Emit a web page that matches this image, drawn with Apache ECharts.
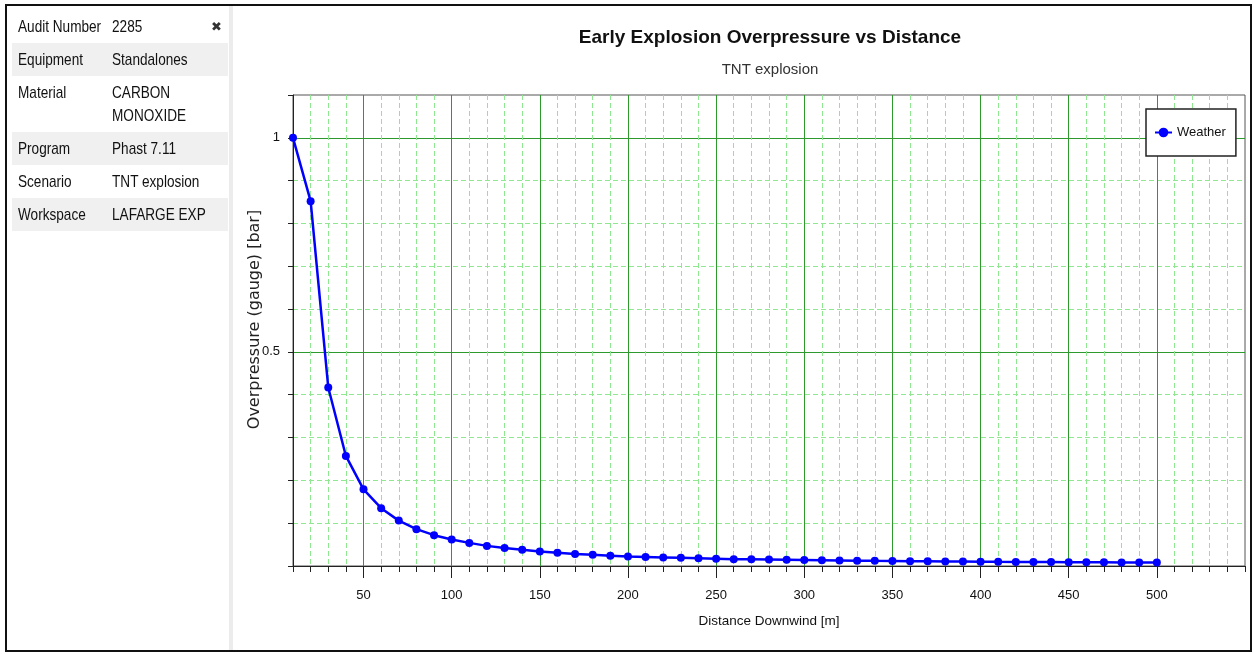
<!DOCTYPE html>
<html>
<head>
<meta charset="utf-8">
<title>Early Explosion Overpressure vs Distance</title>
<script src="https://cdn.jsdelivr.net/npm/echarts@6/dist/echarts.min.js"></script>
<style>
  html, body { margin: 0; padding: 0; background: #fff; }
  #page { position: relative; width: 1254px; height: 654px; overflow: hidden; background: #fff; }
  #main { position: absolute; left: 0; top: 0; width: 1254px; height: 654px; }
  #frame { position: absolute; left: 5px; top: 4px; width: 1243px; height: 644px; border: 2px solid #111; z-index: 3; }
  #sep { position: absolute; left: 229px; top: 6px; width: 4px; height: 646px; background: #ececec; z-index: 2; }
  #info { position: absolute; left: 12px; top: 10px; width: 216px; z-index: 2;
          font-family: "Liberation Sans", Arial, sans-serif; font-size: 17px; color: #111; }
  .row { position: relative; height: 33px; }
  .row.alt { background: #f0f0f0; }
  .row.tall { height: 56px; }
  .k, .v { position: absolute; top: 0; white-space: nowrap; line-height: 33px;
           transform: scaleX(0.8); transform-origin: 0 0; }
  .k { left: 6px; }
  .v { left: 100px; }
  .tall .k, .tall .v { top: 5px; line-height: 23px; }
  .close { position: absolute; left: 199px; top: 9px; font-family: "DejaVu Sans", sans-serif; font-size: 13px; font-weight: bold; color: #333; }
</style>
</head>
<body>
<div id="page">
  <div id="main"></div>
  <div id="sep"></div>
  <div id="info">
    <div class="row"><span class="k">Audit Number</span><span class="v">2285</span><span class="close">✖</span></div>
    <div class="row alt"><span class="k">Equipment</span><span class="v">Standalones</span></div>
    <div class="row tall"><span class="k">Material</span><span class="v">CARBON<br>MONOXIDE</span></div>
    <div class="row alt"><span class="k">Program</span><span class="v">Phast 7.11</span></div>
    <div class="row"><span class="k">Scenario</span><span class="v">TNT explosion</span></div>
    <div class="row alt"><span class="k">Workspace</span><span class="v">LAFARGE EXP</span></div>
  </div>
  <div id="frame"></div>
</div>
<script>
// distance downwind [m]
const distance = [10, 20, 30, 40, 50, 60, 70, 80, 90, 100,
  110, 120, 130, 140, 150, 160, 170, 180, 190, 200,
  210, 220, 230, 240, 250, 260, 270, 280, 290, 300,
  310, 320, 330, 340, 350, 360, 370, 380, 390, 400,
  410, 420, 430, 440, 450, 460, 470, 480, 490, 500];
// overpressure (gauge) [bar]
const overpressure = [1.0, 0.852, 0.417, 0.257, 0.179, 0.135, 0.106, 0.086, 0.072, 0.062,
  0.054, 0.047, 0.042, 0.038, 0.034, 0.031, 0.028, 0.026, 0.024, 0.022,
  0.021, 0.020, 0.019, 0.018, 0.017, 0.016, 0.0155, 0.015, 0.0145, 0.014,
  0.0135, 0.013, 0.0125, 0.012, 0.0117, 0.0113, 0.011, 0.0107, 0.0104, 0.0101,
  0.0098, 0.0096, 0.0094, 0.0092, 0.009, 0.0088, 0.0086, 0.0084, 0.0082, 0.008];
const xLabelTicks = [50, 100, 150, 200, 250, 300, 350, 400, 450, 500];
const yLabelTicks = [0.5, 1];

const font = '"Liberation Sans", Arial, sans-serif';
const majorGreen = '#2e9a2e';
const minorGreen = '#8fe88f';

let chart = echarts.init(document.getElementById('main'));

const xBase = { type: 'value', min: 10, max: 550, interval: 10, position: 'bottom', gridIndex: 0 };
const yBase = { type: 'value', min: 0, max: 1.1, interval: 0.1, position: 'left', gridIndex: 0 };

let option = {
  animation: false,
  title: {
    text: 'Early Explosion Overpressure vs Distance',
    subtext: 'TNT explosion',
    left: 770,
    top: 28,
    padding: 0,
    textAlign: 'center',
    itemGap: 15,
    textStyle: { fontFamily: font, fontSize: 19, fontWeight: 'bold', color: '#111' },
    subtextStyle: { fontFamily: font, fontSize: 15, color: '#333' }
  },
  legend: {
    left: 1146,
    top: 109,
    orient: 'vertical',
    padding: [17, 10, 17, 8],
    itemWidth: 17,
    itemHeight: 12,
    itemGap: 5,
    backgroundColor: '#fff',
    borderColor: '#222',
    borderWidth: 1.5,
    textStyle: { fontFamily: font, fontSize: 13, color: '#111' },
    data: ['Weather']
  },
  grid: {
    left: 293, right: 9, top: 95, bottom: 88,
    show: true, borderColor: '#555', borderWidth: 1
  },
  xAxis: [
    // minor grid, minor ticks, labels
    Object.assign({}, xBase, {
      name: 'Distance Downwind [m]',
      nameLocation: 'middle',
      nameGap: 48,
      nameMoveOverlap: false,
      nameTextStyle: { fontFamily: font, fontSize: 13.5, color: '#111' },
      axisLine: { lineStyle: { color: '#222', width: 1 } },
      axisTick: { length: 6, lineStyle: { color: '#222' } },
      axisLabel: {
        margin: 23, fontFamily: font, fontSize: 13, color: '#111',
        formatter: v => xLabelTicks.indexOf(Math.round(v)) >= 0 ? String(Math.round(v)) : ''
      },
      splitLine: { show: true, showMaxLine: false, lineStyle: { color: minorGreen, width: 1, type: [5, 3] } }
    }),
    // major ticks and major grid lines
    Object.assign({}, xBase, {
      axisLine: { show: false }, axisLabel: { show: false },
      axisTick: { show: true, length: 12, customValues: xLabelTicks, lineStyle: { color: '#222' } },
      splitLine: { show: true, lineStyle: { color: majorGreen, width: 1 } }
    })
  ],
  yAxis: [
    Object.assign({}, yBase, {
      name: 'Overpressure (gauge) [bar]',
      nameLocation: 'middle',
      nameGap: 30,
      nameMoveOverlap: false,
      nameTextStyle: { fontFamily: '"DejaVu Sans", sans-serif', fontSize: 16, color: '#222', padding: [0, 0, 0, 22] },
      axisLine: { show: true, lineStyle: { color: '#222', width: 1 } },
      axisTick: { show: true, length: 5, lineStyle: { color: '#222' } },
      axisLabel: {
        margin: 13, fontFamily: font, fontSize: 13, color: '#111',
        formatter: v => {
          for (const t of yLabelTicks) { if (Math.abs(v - t) < 1e-6) return String(t); }
          return '';
        }
      },
      splitLine: { show: true, showMaxLine: false, lineStyle: { color: minorGreen, width: 1, type: [5, 3] } }
    }),
    // major grid lines at 0.5 and 1
    Object.assign({}, yBase, {
      axisLine: { show: false }, axisLabel: { show: false },
      axisTick: { show: false, customValues: yLabelTicks },
      splitLine: { show: true, lineStyle: { color: majorGreen, width: 1 } }
    })
  ],
  series: [
    {
      name: 'Weather',
      type: 'line',
      xAxisIndex: 0,
      yAxisIndex: 0,
      data: distance.map((d, i) => [d, overpressure[i]]),
      color: '#0000ff',
      symbol: 'circle',
      symbolSize: 8,
      showAllSymbol: true,
      clip: false,
      lineStyle: { color: '#0000ff', width: 2.5 },
      itemStyle: { color: '#0000ff' },
      z: 5
    }
  ]
};

chart.setOption(option);
</script>
</body>
</html>
